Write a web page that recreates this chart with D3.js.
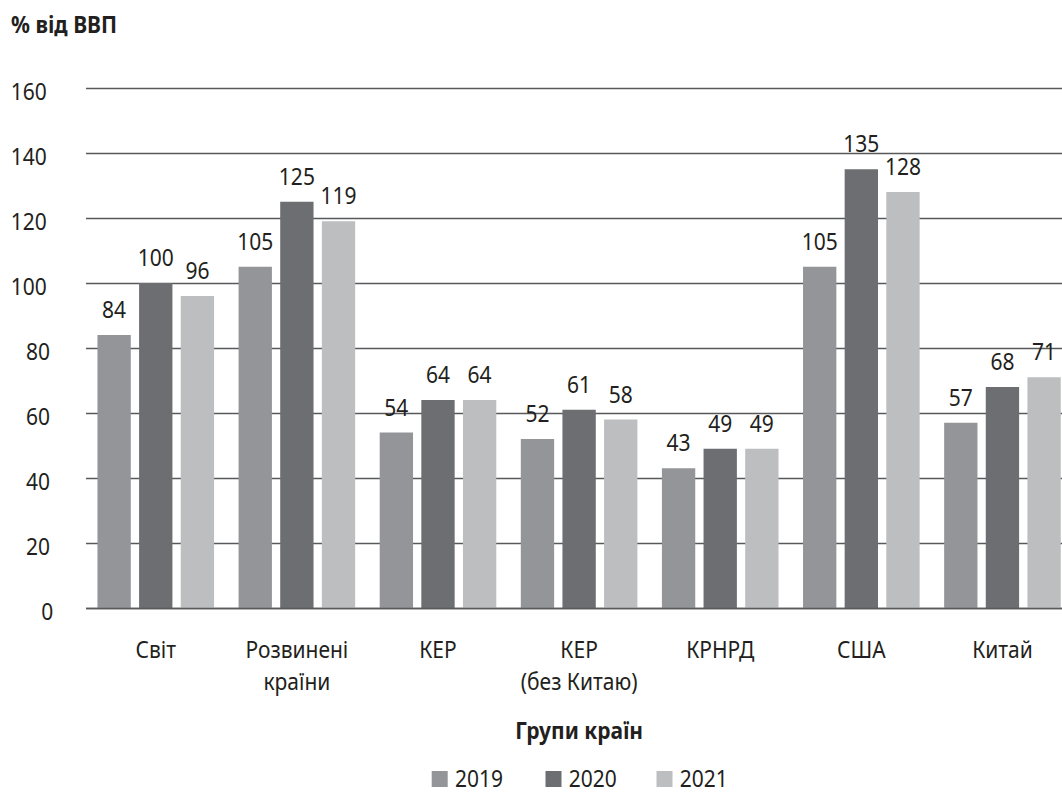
<!DOCTYPE html>
<html><head><meta charset="utf-8">
<script src="https://cdn.jsdelivr.net/npm/d3@7"></script>
<style>body{margin:0;background:#fff}svg{font-family:"Noto Sans",sans-serif}</style>
</head><body><svg id="c" width="1062" height="794"></svg>
<script>
const categories = [["Світ"],["Розвинені","країни"],["КЕР"],["КЕР","(без Китаю)"],["КРНРД"],["США"],["Китай"]];
const years = ["2019","2020","2021"];
const v2019 = [84,105,54,52,43,105,57];
const v2020 = [100,125,64,61,49,135,68];
const v2021 = [96,119,64,58,49,128,71];
const yTicks = [0,20,40,60,80,100,120,140,160];
const colors = ["#939598","#6d6e71","#bcbec0"];
const series = [v2019,v2020,v2021];

const K = 0.875, FS = 24, TXT = "#231f20";
const svg = d3.select("#c");
function T(x, y, str, anchor, bold, size){
  return svg.append("text")
    .attr("transform",`translate(${x},${y}) scale(${K},1)`)
    .attr("text-anchor",anchor||"start").attr("font-size",size||FS)
    .attr("font-weight",bold?"bold":"normal").attr("fill",TXT).text(str);
}

const y = d3.scaleLinear().domain([0,160]).range([608,88]);
const x = d3.scaleBand().domain(d3.range(categories.length)).range([85.2,1073]).paddingInner(0).paddingOuter(0);
const groupW = 116.6;
const xs = d3.scaleBand().domain(d3.range(3)).range([0,groupW]).paddingInner(8.3/41.6).paddingOuter(0);
const off = (x.bandwidth()-groupW)/2;

// grid
svg.append("g").selectAll("line").data(yTicks).join("line")
  .attr("x1",86).attr("x2",1062).attr("y1",d=>y(d)+0.5).attr("y2",d=>y(d)+0.5)
  .attr("stroke","#58595b").attr("stroke-width",1.3);
yTicks.forEach(d=>{
  const s = String(d);
  T(53.3-(s.length-1)*3.3, y(d)+12, s, "end");
});

// bars
const g = svg.append("g");
series.forEach((s,si)=>{
  g.selectAll(null).data(s).join("rect")
    .attr("x",(d,i)=>x(i)+off+xs(si)).attr("width",xs.bandwidth())
    .attr("y",d=>y(d)).attr("height",d=>y(0)-y(d)).attr("fill",colors[si]);
  s.forEach((d,i)=>T(x(i)+off+xs(si)+xs.bandwidth()/2, y(d)-17, d, "middle"));
});
svg.append("line").attr("x1",86).attr("x2",1062).attr("y1",y(0)+0.5).attr("y2",y(0)+0.5)
  .attr("stroke","#58595b").attr("stroke-width",1.3);

// category labels
categories.forEach((c,i)=>{
  c.forEach((line,li)=>T(x(i)+x.bandwidth()/2, 657.5+li*32, line, "middle"));
});

T(11, 33, "% від ВВП", "start", true);
const cx = (x.range()[0]+x.range()[1])/2;
T(cx, 739, "Групи країн", "middle", true);

// legend
const lx = [431.7,545.5,656.5];
years.forEach((yr,i)=>{
  svg.append("rect").attr("x",lx[i]).attr("y",771).attr("width",16).attr("height",16).attr("fill",colors[i]);
  T(lx[i]+23.3, 787, yr, "start");
});
</script></body></html>
